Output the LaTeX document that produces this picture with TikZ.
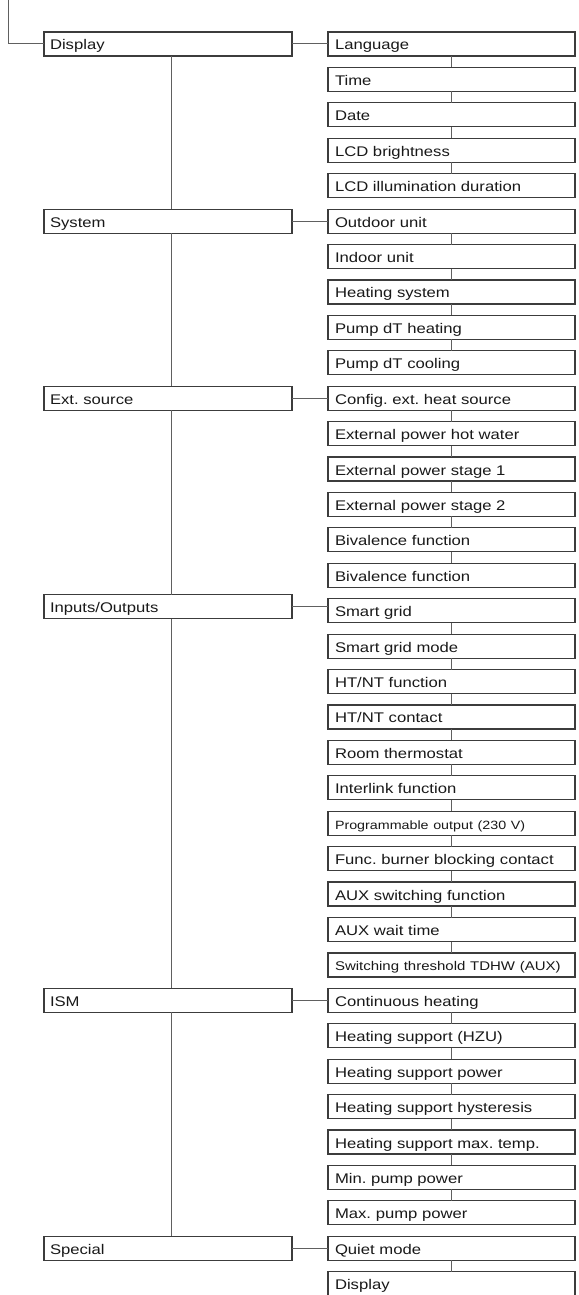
\documentclass[tikz,border=0pt]{standalone}
\usepackage{fontspec}
\setmainfont[FakeStretch=1.19]{Liberation Sans}
\usepackage{tikz}
\usetikzlibrary{positioning}
\definecolor{menuframe}{RGB}{60,60,60}
\definecolor{menuline} {RGB}{96,96,96}
\definecolor{menutext} {RGB}{25,25,25}
\frenchspacing

\begin{document}
\begin{tikzpicture}[
    x=1pt,y=1pt,
    item/.style ={draw=menuframe,line width=1.2pt,fill=white,outer sep=0pt,
                  minimum height=24pt,text width=233pt,inner xsep=7pt,inner ysep=0pt,
                  text height=12pt,text depth=0pt,align=left,text=menutext,
                  font=\fontsize{14}{16}\selectfont},
    group/.style={item,text width=236pt,inner xsep=6pt},
    link/.style ={draw=menuline,line width=1pt},
  ]
  \useasboundingbox (0,0) rectangle (578,-1295);

  %% Submenu column
  \foreach \txt [count=\i] in {Language,Time,Date,LCD brightness,
      LCD illumination duration,
      Outdoor unit,Indoor unit,Heating system,Pump dT heating,Pump dT cooling,
      Config. ext. heat source,External power hot water,External power stage 1,
      External power stage 2,Bivalence function,Bivalence function,
      Smart grid,Smart grid mode,HT/NT function,HT/NT contact,Room thermostat,
      Interlink function,{\fontsize{12}{14}\selectfont Programmable output (230 V)},
      Func. burner blocking contact,AUX switching function,AUX wait time,
      {\fontsize{12.6}{14}\selectfont Switching threshold TDHW (AUX)},
      Continuous heating,Heating support (HZU),Heating support power,
      Heating support hysteresis,Heating support max. temp.,Min. pump power,
      Max. pump power,
      Quiet mode,Display}
    \node[item] (r\i) at (451.5,{-44-(\i-1)*35.42}) {\txt};

  %% Links inside each submenu
  \foreach \i/\j in {1/2,2/3,3/4,4/5, 6/7,7/8,8/9,9/10,
      11/12,12/13,13/14,14/15,15/16,
      17/18,18/19,19/20,20/21,21/22,22/23,23/24,24/25,25/26,26/27,
      28/29,29/30,30/31,31/32,32/33,33/34, 35/36}
    \draw[link] (r\i.south) -- (r\j.north);

  %% Main menu column
  \node[group] (display) [left=36pt of r1]  {Display};
  \node[group] (system)  [left=36pt of r6]  {System};
  \node[group] (extsrc)  [left=36pt of r11] {Ext. source};
  \node[group] (inout)   [left=36pt of r17,yshift=4pt] {Inputs/Outputs};
  \node[group] (ism)     [left=36pt of r28] {ISM};
  \node[group] (special) [left=36pt of r35] {Special};

  %% Root entry
  \coordinate (root) at (8,0);
  \draw[link] (root) |- (display.west);

  %% Main menu spine
  \draw[link] ([xshift=3pt]display.south) -- ([xshift=3pt]system.north);
  \draw[link] ([xshift=3pt]system.south)  -- ([xshift=3pt]extsrc.north);
  \draw[link] ([xshift=3pt]extsrc.south)  -- ([xshift=3pt]inout.north);
  \draw[link] ([xshift=3pt]inout.south)   -- ([xshift=3pt]ism.north);
  \draw[link] ([xshift=3pt]ism.south)     -- ([xshift=3pt]special.north);

  %% Main menu -> first submenu entry
  \draw[link] (display.east) -- (r1.west);
  \draw[link] (system.east)  -- (r6.west);
  \draw[link] (extsrc.east)  -- (r11.west);
  \draw[link] (inout.east)   -- (inout.east -| r17.west);
  \draw[link] (ism.east)     -- (r28.west);
  \draw[link] (special.east) -- (r35.west);
\end{tikzpicture}
\end{document}
